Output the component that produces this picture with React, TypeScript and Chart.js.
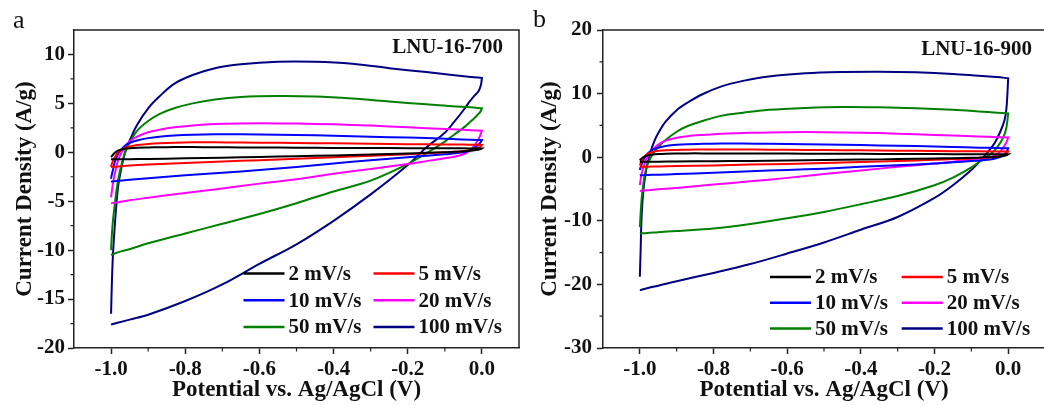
import React, { useEffect, useRef } from 'react';
import { Chart, registerables } from 'chart.js';

Chart.register(...registerables);

const FONT = "'Liberation Serif', 'Times New Roman', serif";
const INK = '#111111';

const SERIES_LABELS = ['2 mV/s', '5 mV/s', '10 mV/s', '20 mV/s', '50 mV/s', '100 mV/s'];
const SERIES_COLORS = ['#000000', '#ff0000', '#0000ff', '#ff00ff', '#008000', '#000080'];

// potential grids (V vs Ag/AgCl): anodic sweep then cathodic sweep
const V_FWD = [-1.0, -0.998, -0.995, -0.99, -0.985, -0.98, -0.97, -0.96, -0.95, -0.93, -0.9, -0.87, -0.83, -0.78, -0.72, -0.65, -0.55, -0.45, -0.35, -0.25, -0.15, -0.08, -0.03, 0.0];
const V_REV = [0.0, -0.002, -0.005, -0.01, -0.02, -0.035, -0.05, -0.075, -0.1, -0.15, -0.2, -0.3, -0.4, -0.5, -0.6, -0.7, -0.8, -0.9, -0.95, -0.98, -1.0];

const X_TICKS = [-1.0, -0.8, -0.6, -0.4, -0.2, 0.0];
const X_MINOR = [-0.9, -0.7, -0.5, -0.3, -0.1];

// LNU-16-700 (A/g)
const Y_TICKS_700 = [-20, -15, -10, -5, 0, 5, 10];
const Y_MINOR_700 = [-17.5, -12.5, -7.5, -2.5, 2.5, 7.5];
const fwd700_2 = [-0.5, -0.4, -0.25, -0.05, 0.1, 0.2, 0.3, 0.38, 0.42, 0.47, 0.5, 0.52, 0.53, 0.53, 0.52, 0.5, 0.48, 0.46, 0.44, 0.43, 0.42, 0.41, 0.4, 0.4];
const rev700_2 = [0.4, 0.35, 0.3, 0.25, 0.2, 0.15, 0.1, 0.05, 0.0, -0.05, -0.12, -0.22, -0.32, -0.4, -0.48, -0.55, -0.62, -0.68, -0.7, -0.72, -0.7];
const fwd700_5 = [-1.5, -1.2, -0.9, -0.5, -0.2, 0.05, 0.3, 0.5, 0.6, 0.75, 0.85, 0.92, 0.98, 1.02, 1.02, 1.0, 0.97, 0.93, 0.9, 0.85, 0.82, 0.8, 0.78, 0.75];
const rev700_5 = [0.75, 0.65, 0.55, 0.45, 0.3, 0.2, 0.12, 0.05, 0.0, -0.1, -0.2, -0.35, -0.5, -0.65, -0.8, -0.95, -1.1, -1.25, -1.35, -1.45, -1.5];
const fwd700_10 = [-2.7, -2.3, -1.8, -1.0, -0.5, -0.1, 0.4, 0.75, 0.95, 1.2, 1.45, 1.6, 1.72, 1.8, 1.85, 1.85, 1.8, 1.75, 1.65, 1.55, 1.45, 1.35, 1.28, 1.25];
const rev700_10 = [1.25, 1.1, 0.95, 0.75, 0.45, 0.15, 0.0, -0.1, -0.2, -0.35, -0.5, -0.8, -1.15, -1.5, -1.8, -2.1, -2.35, -2.65, -2.8, -2.9, -3.0];
const fwd700_20 = [-4.6, -4.0, -3.2, -2.2, -1.4, -0.7, 0.1, 0.7, 1.1, 1.6, 2.05, 2.3, 2.55, 2.75, 2.9, 2.95, 2.95, 2.9, 2.8, 2.65, 2.45, 2.35, 2.25, 2.2];
const rev700_20 = [2.2, 2.0, 1.7, 1.3, 0.7, 0.1, -0.2, -0.45, -0.6, -0.9, -1.2, -1.7, -2.2, -2.75, -3.2, -3.7, -4.15, -4.65, -4.9, -5.1, -5.2];
const fwd700_50 = [-10.0, -8.5, -7.0, -5.3, -3.8, -2.6, -1.0, 0.2, 1.0, 2.2, 3.2, 3.9, 4.5, 5.0, 5.4, 5.65, 5.75, 5.7, 5.5, 5.2, 4.9, 4.7, 4.6, 4.5];
const rev700_50 = [4.5, 4.3, 4.1, 3.9, 3.5, 3.0, 2.5, 1.8, 1.1, -0.1, -1.2, -2.9, -4.0, -5.2, -6.3, -7.3, -8.3, -9.3, -9.9, -10.2, -10.5];
const fwd700_100 = [-16.5, -13.5, -10.5, -7.5, -5.0, -3.2, -1.2, 0.3, 1.2, 2.8, 4.5, 5.7, 7.0, 7.9, 8.6, 9.0, 9.25, 9.25, 9.05, 8.6, 8.2, 7.9, 7.7, 7.6];
const rev700_100 = [7.6, 7.0, 6.6, 6.2, 5.8, 5.1, 4.3, 3.1, 2.0, 0.5, -1.3, -4.3, -7.0, -9.4, -11.4, -13.5, -15.2, -16.6, -17.1, -17.4, -17.6];

// LNU-16-900 (A/g)
const Y_TICKS_900 = [-30, -20, -10, 0, 10, 20];
const Y_MINOR_900 = [-25, -15, -5, 5, 15];
const fwd900_2 = [-0.5, -0.35, -0.2, 0.0, 0.15, 0.25, 0.38, 0.45, 0.5, 0.55, 0.58, 0.6, 0.6, 0.6, 0.6, 0.58, 0.56, 0.54, 0.52, 0.5, 0.48, 0.46, 0.45, 0.45];
const rev900_2 = [0.45, 0.38, 0.3, 0.22, 0.12, 0.05, 0.0, -0.05, -0.1, -0.15, -0.2, -0.3, -0.38, -0.45, -0.52, -0.58, -0.63, -0.68, -0.7, -0.72, -0.72];
const fwd900_5 = [-1.3, -1.0, -0.6, -0.1, 0.25, 0.5, 0.75, 0.9, 1.0, 1.1, 1.15, 1.18, 1.2, 1.2, 1.2, 1.18, 1.15, 1.1, 1.05, 1.0, 0.95, 0.92, 0.9, 0.9];
const rev900_5 = [0.9, 0.75, 0.6, 0.45, 0.25, 0.1, 0.0, -0.1, -0.2, -0.3, -0.4, -0.6, -0.75, -0.9, -1.05, -1.15, -1.3, -1.4, -1.45, -1.5, -1.5];
const fwd900_10 = [-2.0, -1.6, -1.1, -0.4, 0.1, 0.5, 1.0, 1.3, 1.5, 1.75, 1.95, 2.05, 2.1, 2.15, 2.15, 2.1, 2.05, 1.95, 1.85, 1.75, 1.6, 1.5, 1.45, 1.4];
const rev900_10 = [1.4, 1.1, 0.8, 0.5, 0.1, -0.2, -0.35, -0.5, -0.6, -0.8, -1.0, -1.25, -1.5, -1.8, -2.0, -2.2, -2.45, -2.65, -2.75, -2.8, -2.85];
const fwd900_20 = [-4.4, -3.6, -2.6, -1.5, -0.7, 0.0, 0.9, 1.5, 2.0, 2.6, 3.05, 3.3, 3.5, 3.7, 3.8, 3.9, 3.95, 3.9, 3.8, 3.6, 3.4, 3.25, 3.15, 3.1];
const rev900_20 = [3.1, 2.7, 2.3, 1.8, 1.0, 0.3, 0.0, -0.2, -0.35, -0.7, -1.0, -1.5, -2.1, -2.65, -3.25, -3.8, -4.3, -4.85, -5.05, -5.2, -5.3];
const fwd900_50 = [-11.0, -9.0, -6.5, -4.0, -2.3, -1.2, 0.0, 0.9, 1.6, 2.7, 4.0, 4.9, 5.7, 6.5, 7.0, 7.45, 7.75, 7.9, 7.85, 7.7, 7.45, 7.2, 7.0, 6.9];
const rev900_50 = [6.9, 5.8, 4.6, 3.6, 2.4, 1.2, 0.4, -0.6, -1.6, -3.2, -4.4, -6.1, -7.4, -8.6, -9.6, -10.5, -11.2, -11.6, -11.8, -11.9, -12.0];
const fwd900_100 = [-18.8, -15.0, -9.0, -5.0, -2.8, -1.2, 1.0, 2.6, 3.8, 5.6, 7.4, 8.6, 9.9, 11.1, 12.0, 12.7, 13.2, 13.4, 13.45, 13.35, 13.1, 12.8, 12.6, 12.4];
const rev900_100 = [12.4, 10.0, 7.5, 5.8, 4.2, 2.4, 1.2, -0.5, -2.0, -4.4, -6.4, -9.4, -11.4, -13.4, -15.15, -16.8, -18.2, -19.5, -20.2, -20.6, -20.9];

type Branches = { fwd: number[]; rev: number[] };

type PanelProps = {
  left: number;
  width: number;
  letter: string;
  sample: string;
  yMin: number;
  yMax: number;
  yTicks: number[];
  yMinor: number[];
  series: Branches[];
  yAxisWidth: number;
  padRight: number;
  yTitlePad: number;
  yTickPad: number;
  letterX: number;
  letterY: number;
  sampleDx: number;
  sampleDy: number;
  legX: number;
  legY: number;
  legColW: number;
  legRowH: number;
};

function makeDecor(p: PanelProps) {
  return {
    id: 'decor',
    afterDraw(chart: any) {
      const { ctx, chartArea: ca, scales } = chart;
      const xs = scales.x;
      const ys = scales.y;
      ctx.save();
      ctx.strokeStyle = '#222';
      ctx.lineWidth = 1.5;
      ctx.beginPath();
      ctx.moveTo(ca.left, ca.top);
      ctx.lineTo(ca.right, ca.top);
      ctx.lineTo(ca.right, ca.bottom);
      ctx.stroke();

      ctx.lineWidth = 1.2;
      ctx.beginPath();
      X_MINOR.forEach((v) => {
        const px = xs.getPixelForValue(v);
        ctx.moveTo(px, ca.bottom);
        ctx.lineTo(px, ca.bottom + 3.5);
      });
      p.yMinor.forEach((v) => {
        const py = ys.getPixelForValue(v);
        ctx.moveTo(ca.left, py);
        ctx.lineTo(ca.left - 3.5, py);
      });
      ctx.stroke();

      ctx.fillStyle = INK;
      ctx.font = `bold 21px ${FONT}`;
      ctx.textAlign = 'right';
      ctx.textBaseline = 'middle';
      ctx.fillText(p.sample, ca.right - p.sampleDx, ca.top + p.sampleDy);

      chart.data.datasets.forEach((ds: any, i: number) => {
        const col = i % 2;
        const row = Math.floor(i / 2);
        const x0 = ca.left + p.legX + col * p.legColW;
        const y0 = ca.bottom - p.legY + row * p.legRowH;
        ctx.strokeStyle = ds.borderColor;
        ctx.lineWidth = 2.5;
        ctx.beginPath();
        ctx.moveTo(x0, y0);
        ctx.lineTo(x0 + 41, y0);
        ctx.stroke();
        ctx.textAlign = 'left';
        ctx.fillStyle = INK;
        ctx.fillText(ds.label, x0 + 45, y0 + 1);
      });

      ctx.font = `26px ${FONT}`;
      ctx.textBaseline = 'alphabetic';
      ctx.textAlign = 'left';
      ctx.fillText(p.letter, p.letterX, p.letterY);
      ctx.restore();
    },
  };
}

function Panel(p: PanelProps) {
  const ref = useRef<HTMLCanvasElement>(null);
  useEffect(() => {
    if (!ref.current) return;
    const datasets = p.series.map((s, i) => ({
      label: SERIES_LABELS[i],
      data: [
        ...V_FWD.map((x, k) => ({ x, y: s.fwd[k] })),
        ...V_REV.map((x, k) => ({ x, y: s.rev[k] })),
      ],
      borderColor: SERIES_COLORS[i],
      backgroundColor: SERIES_COLORS[i],
      showLine: true,
      fill: false,
      pointRadius: 0,
      borderWidth: 2,
      tension: 0.35,
    }));
    const chart = new Chart(ref.current, {
      type: 'scatter',
      data: { datasets },
      options: {
        responsive: false,
        animation: false,
        devicePixelRatio: 1,
        layout: { padding: { top: 30, right: p.padRight, left: 0, bottom: 0 } },
        plugins: { legend: { display: false }, tooltip: { enabled: false } },
        scales: {
          x: {
            type: 'linear',
            min: -1.1,
            max: 0.1,
            afterBuildTicks: (scale: any) => {
              scale.ticks = X_TICKS.map((value) => ({ value }));
            },
            afterFit: (scale: any) => {
              scale.height = 57;
            },
            grid: { display: true, drawOnChartArea: false, drawTicks: true, tickLength: 6, tickWidth: 1.5, tickColor: '#222' },
            border: { display: true, color: '#222', width: 1.5 },
            ticks: {
              autoSkip: false,
              maxRotation: 0,
              padding: 3,
              color: INK,
              font: { family: FONT, size: 21, weight: 'bold' },
              callback: (v: any) => Number(v).toFixed(1),
            },
            title: {
              display: true,
              text: 'Potential vs. Ag/AgCl (V)',
              color: INK,
              font: { family: FONT, size: 23, weight: 'bold' },
              padding: { top: 0, bottom: 1 },
            },
          },
          y: {
            type: 'linear',
            min: p.yMin,
            max: p.yMax,
            afterBuildTicks: (scale: any) => {
              scale.ticks = p.yTicks.map((value) => ({ value }));
            },
            afterFit: (scale: any) => {
              scale.width = p.yAxisWidth;
            },
            grid: { display: true, drawOnChartArea: false, drawTicks: true, tickLength: 6, tickWidth: 1.5, tickColor: '#222' },
            border: { display: true, color: '#222', width: 1.5 },
            ticks: {
              autoSkip: false,
              padding: p.yTickPad,
              color: INK,
              font: { family: FONT, size: 21, weight: 'bold' },
              callback: (v: any) => String(v),
            },
            title: {
              display: true,
              text: 'Current Density (A/g)',
              color: INK,
              font: { family: FONT, size: 23, weight: 'bold' },
              padding: { top: p.yTitlePad, bottom: 0 },
            },
          },
        },
      } as any,
      plugins: [makeDecor(p)],
    });
    return () => chart.destroy();
  }, []);
  return (
    <canvas
      ref={ref}
      width={p.width}
      height={405}
      style={{ position: 'absolute', left: p.left, top: 0, width: p.width, height: 405, display: 'block' }}
    />
  );
}

const SERIES_700: Branches[] = [
  { fwd: fwd700_2, rev: rev700_2 },
  { fwd: fwd700_5, rev: rev700_5 },
  { fwd: fwd700_10, rev: rev700_10 },
  { fwd: fwd700_20, rev: rev700_20 },
  { fwd: fwd700_50, rev: rev700_50 },
  { fwd: fwd700_100, rev: rev700_100 },
];

const SERIES_900: Branches[] = [
  { fwd: fwd900_2, rev: rev900_2 },
  { fwd: fwd900_5, rev: rev900_5 },
  { fwd: fwd900_10, rev: rev900_10 },
  { fwd: fwd900_20, rev: rev900_20 },
  { fwd: fwd900_50, rev: rev900_50 },
  { fwd: fwd900_100, rev: rev900_100 },
];

export default function App() {
  return (
    <div style={{ position: 'absolute', left: 0, top: 0, width: 1044, height: 405, overflow: 'hidden', background: '#ffffff' }}>
      <Panel
        left={0}
        width={522}
        letter="a"
        sample="LNU-16-700"
        yMin={-20}
        yMax={12.5}
        yTicks={Y_TICKS_700}
        yMinor={Y_MINOR_700}
        series={SERIES_700}
        yAxisWidth={74}
        padRight={3}
        yTitlePad={11}
        yTickPad={3}
        letterX={13}
        letterY={28}
        sampleDx={16}
        sampleDy={18}
        legX={169.5}
        legY={74.5}
        legColW={130}
        legRowH={26.7}
      />
      <Panel
        left={522}
        width={530}
        letter="b"
        sample="LNU-16-900"
        yMin={-30}
        yMax={20}
        yTicks={Y_TICKS_900}
        yMinor={Y_MINOR_900}
        series={SERIES_900}
        yAxisWidth={81}
        padRight={7}
        yTitlePad={14}
        yTickPad={5}
        letterX={11}
        letterY={27}
        sampleDx={13}
        sampleDy={20}
        legX={167}
        legY={71}
        legColW={131.7}
        legRowH={25.8}
      />
    </div>
  );
}
